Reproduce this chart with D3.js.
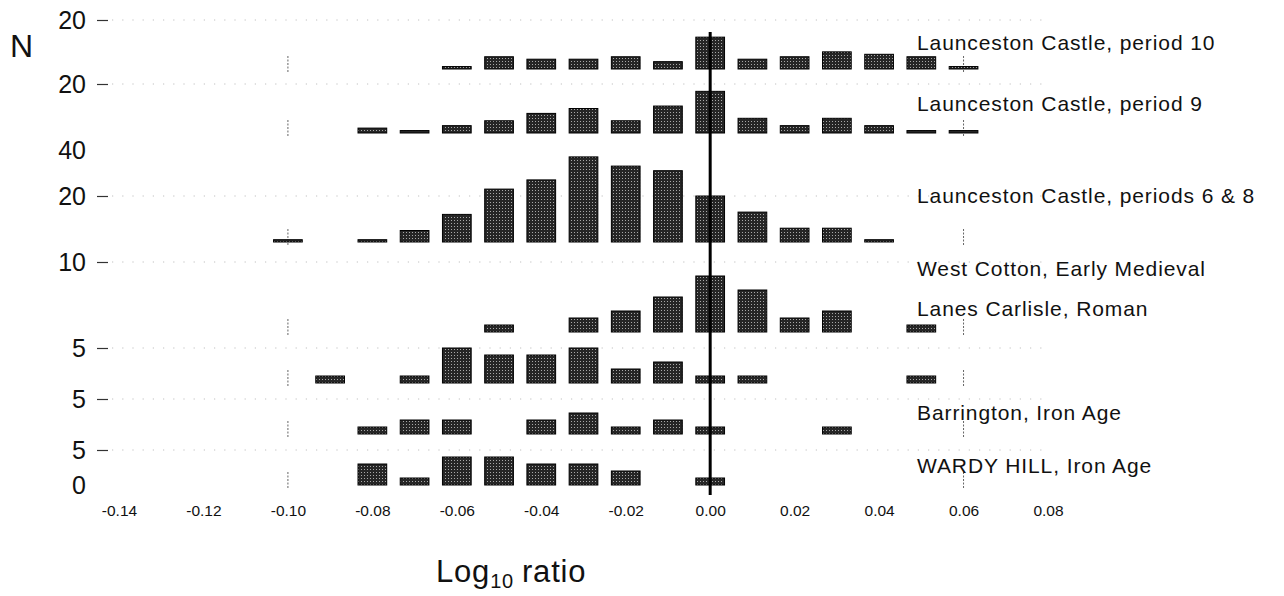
<!DOCTYPE html>
<html>
<head>
<meta charset="utf-8">
<script src="https://cdn.jsdelivr.net/npm/d3@7/dist/d3.min.js"></script>
<style>
  body { margin: 0; background: #fff; }
  svg { display: block; font-family: "Liberation Sans", Arial, Helvetica, sans-serif; }
</style>
</head>
<body>
<svg id="chart"></svg>
<script>
// Bin centres (Log10 ratio), shared by every histogram
const bins = [-0.10, -0.09, -0.08, -0.07, -0.06, -0.05, -0.04, -0.03, -0.02,
              -0.01, 0.00, 0.01, 0.02, 0.03, 0.04, 0.05, 0.06];

// Site names, top to bottom
const sites = [
    'Launceston Castle, period 10',
    'Launceston Castle, period 9',
    'Launceston Castle, periods 6 & 8',
    'West Cotton, Early Medieval',
    'Lanes Carlisle, Roman',
    'Barrington, Iron Age',
    'WARDY HILL, Iron Age'
];

// Counts per bin for each site
const launceston10 = [0, 0, 0, 0, 1, 5, 4, 4, 5, 3, 13, 4, 5, 7, 6, 5, 1];
const launceston9  = [0, 0, 2, 1, 3, 5, 8, 10, 5, 11, 17, 6, 3, 6, 3, 1, 1];
const launceston68 = [1, 0, 1, 5, 12, 23, 27, 37, 33, 31, 20, 13, 6, 6, 1, 0, 0];
const westCotton   = [0, 0, 0, 0, 0, 1, 0, 2, 3, 5, 8, 6, 2, 3, 0, 1, 0];
const lanesCarlisle = [0, 1, 0, 1, 5, 4, 4, 5, 2, 3, 1, 1, 0, 0, 0, 1, 0];
const barrington   = [0, 0, 1, 2, 2, 0, 2, 3, 1, 2, 1, 0, 0, 1, 0, 0, 0];
const wardyHill    = [0, 0, 3, 1, 4, 4, 3, 3, 2, 0, 1, 0, 0, 0, 0, 0, 0];

// N axis tick values for each histogram
const yTicks = [[20], [20], [20, 40], [10], [5], [5], [0, 5]];

// Log10 ratio tick labels
const xTicks = [-0.14, -0.12, -0.10, -0.08, -0.06, -0.04, -0.02, 0.00, 0.02, 0.04, 0.06, 0.08];

// Reference markers drawn at each baseline
const markers = [-0.10, 0.06];

const counts = [launceston10, launceston9, launceston68, westCotton, lanesCarlisle, barrington, wardyHill];

// Layout: baseline, pixels per count and label position of each histogram
const width = 1284;
const height = 596;
const panels = [
    { base: 69,  unit: 2.45, labelY: 42 },
    { base: 133, unit: 2.45, labelY: 103 },
    { base: 242, unit: 2.3,  labelY: 195 },
    { base: 332, unit: 7,    labelY: 268 },
    { base: 383, unit: 7,    labelY: 308 },
    { base: 434, unit: 7,    labelY: 412 },
    { base: 485, unit: 7,    labelY: 465 }
];
const halfBar = 0.0034;

const svg = d3.select('#chart')
    .attr('width', width)
    .attr('height', height);

// halftone-ish fill for the bars
const pattern = svg.append('defs').append('pattern')
    .attr('id', 'halftone')
    .attr('width', 3)
    .attr('height', 3)
    .attr('patternUnits', 'userSpaceOnUse');
pattern.append('rect').attr('width', 3).attr('height', 3).attr('fill', '#262626');
pattern.append('rect').attr('x', 1).attr('y', 1).attr('width', 1).attr('height', 1).attr('fill', '#a8a8a8');

const xScale = d3.scaleLinear()
    .domain([-0.14, 0.08])
    .range([119, 1048]);

// x axis labels only
svg.append('g')
    .attr('transform', 'translate(0, 505)')
    .call(d3.axisBottom(xScale)
        .tickValues(xTicks)
        .tickSize(0)
        .tickPadding(0)
        .tickFormat((d) => d.toFixed(2)))
    .call((g) => g.select('.domain').remove())
    .call((g) => g.selectAll('text')
        .attr('fill', '#111')
        .style('font-size', '15.5px')
        .style('font-family', '"Liberation Sans", Arial, sans-serif'));

panels.forEach((p, i) => {
    const yScale = d3.scaleLinear()
        .domain([0, 1])
        .range([p.base, p.base - p.unit]);

    // dotted gridlines at the tick levels
    svg.append('g')
        .selectAll('line')
        .data(yTicks[i].filter((t) => t > 0 && t < 40))
        .join('line')
        .attr('x1', 112)
        .attr('x2', 1050)
        .attr('y1', (d) => yScale(d))
        .attr('y2', (d) => yScale(d))
        .attr('stroke', '#999')
        .attr('stroke-width', 1)
        .attr('stroke-dasharray', '1.2,9')
        .attr('opacity', 0.6);

    // y axis for this histogram
    svg.append('g')
        .attr('transform', 'translate(108, 0)')
        .call(d3.axisLeft(yScale)
            .tickValues(yTicks[i])
            .tickSize(11)
            .tickPadding(11)
            .tickFormat(d3.format('d')))
        .call((g) => g.select('.domain').remove())
        .call((g) => g.selectAll('.tick line')
            .attr('stroke', '#333')
            .attr('stroke-width', 1.2)
            .attr('opacity', (d) => (d === 0 || d === 40) ? 0 : 1))
        .call((g) => g.selectAll('.tick text')
            .attr('fill', '#111')
            .style('font-size', '25px')
            .style('font-family', '"Liberation Sans", Arial, sans-serif'));

    // short reference markers
    svg.append('g')
        .selectAll('line')
        .data(markers)
        .join('line')
        .attr('x1', (d) => xScale(d))
        .attr('x2', (d) => xScale(d))
        .attr('y1', p.base + 3)
        .attr('y2', p.base - 14)
        .attr('stroke', '#666')
        .attr('stroke-width', 1)
        .attr('stroke-dasharray', '2,1.5');

    // bars
    const rows = bins.map((b, j) => ({ bin: b, n: counts[i][j] })).filter((d) => d.n > 0);
    svg.append('g')
        .selectAll('rect')
        .data(rows)
        .join('rect')
        .attr('x', (d) => xScale(d.bin - halfBar))
        .attr('width', (d) => xScale(d.bin + halfBar) - xScale(d.bin - halfBar))
        .attr('y', (d) => yScale(d.n))
        .attr('height', (d) => yScale(0) - yScale(d.n))
        .attr('fill', 'url(#halftone)')
        .attr('stroke', '#000')
        .attr('stroke-width', 1);

    // site name
    svg.append('text')
        .attr('x', 917)
        .attr('y', p.labelY)
        .attr('dominant-baseline', 'central')
        .attr('fill', '#111')
        .style('font-size', '21px')
        .style('letter-spacing', '0.9px')
        .text(sites[i]);
});

// zero line
svg.append('line')
    .attr('x1', xScale(0))
    .attr('x2', xScale(0))
    .attr('y1', 32)
    .attr('y2', 495)
    .attr('stroke', '#000')
    .attr('stroke-width', 3);

// axis titles
svg.append('text')
    .attr('x', 10)
    .attr('y', 57)
    .attr('fill', '#111')
    .style('font-size', '32px')
    .text('N');

const title = svg.append('text')
    .attr('x', 436)
    .attr('y', 582)
    .attr('fill', '#111')
    .style('font-size', '31px')
    .style('letter-spacing', '0.8px');
title.append('tspan').text('Log');
title.append('tspan').attr('dy', 6).style('font-size', '20px').text('10');
title.append('tspan').attr('dy', -6).attr('dx', 8).text('ratio');
</script>
</body>
</html>
